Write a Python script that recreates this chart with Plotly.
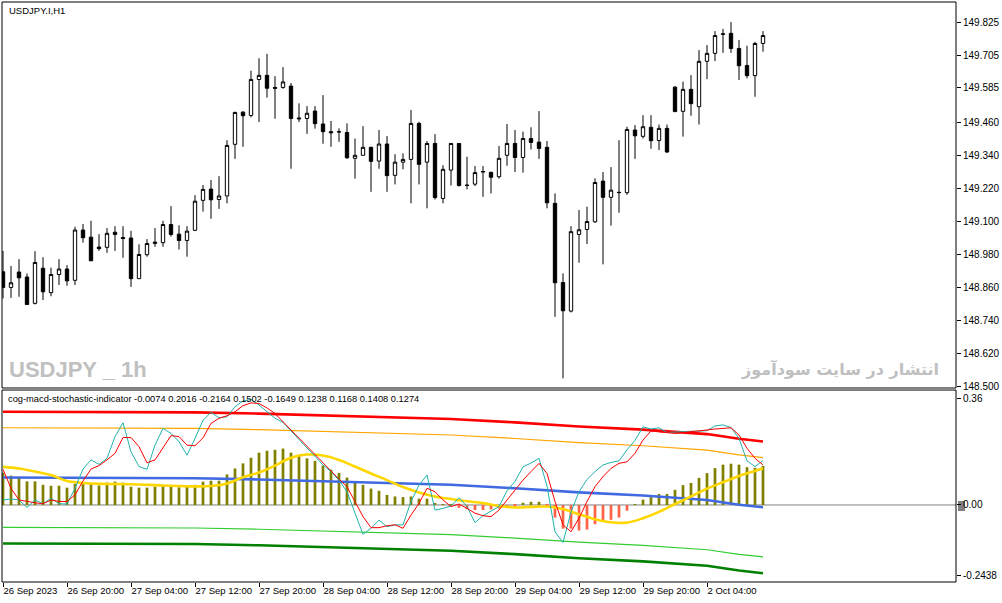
import plotly.graph_objects as go

# USDJPY.I H1 candles, 26 Sep 12:00 -> 2 Oct 11:00 (96 bars)
opens = [148.916, 148.859, 148.915, 148.897, 148.801, 148.929, 148.840, 148.906, 148.926, 148.885,
         149.068, 149.042, 149.006, 149.005, 149.060, 149.041, 149.039, 148.891, 148.978, 149.019,
         149.022, 149.088, 149.053, 149.030, 149.067, 149.176, 149.217, 149.179, 149.192, 149.380,
         149.497, 149.485, 149.616, 149.631, 149.587, 149.587, 149.592, 149.476, 149.474, 149.501,
         149.454, 149.426, 149.426, 149.423, 149.329, 149.340, 149.369, 149.319, 149.381, 149.267,
         149.315, 149.325, 149.456, 149.315, 149.383, 149.183, 149.286, 149.383, 149.232, 149.235,
         149.279, 149.278, 149.262, 149.340, 149.383, 149.332, 149.401, 149.388, 149.369, 149.165,
         148.877, 148.773, 149.052, 149.070, 149.098, 149.246, 149.187, 149.204, 149.204, 149.432,
         149.409, 149.442, 149.394, 149.438, 149.588, 149.500, 149.580, 149.517, 149.682, 149.711,
         149.780, 149.784, 149.729, 149.667, 149.630, 149.747]
highs = [148.992, 148.937, 148.962, 148.910, 148.991, 148.969, 148.931, 148.962, 148.940, 149.080,
         149.090, 149.102, 149.053, 149.075, 149.082, 149.082, 149.065, 149.016, 149.035, 149.075,
         149.102, 149.155, 149.085, 149.082, 149.195, 149.232, 149.250, 149.264, 149.395, 149.499,
         149.501, 149.648, 149.693, 149.709, 149.628, 149.661, 149.603, 149.529, 149.519, 149.519,
         149.559, 149.465, 149.438, 149.456, 149.401, 149.446, 149.371, 149.432, 149.410, 149.344,
         149.347, 149.505, 149.462, 149.392, 149.417, 149.304, 149.385, 149.385, 149.335, 149.301,
         149.301, 149.280, 149.374, 149.454, 149.432, 149.426, 149.442, 149.501, 149.392, 149.201,
         148.910, 149.082, 149.141, 149.153, 149.256, 149.279, 149.297, 149.395, 149.444, 149.450,
         149.486, 149.486, 149.452, 149.452, 149.592, 149.608, 149.632, 149.723, 149.741, 149.792,
         149.800, 149.825, 149.760, 149.739, 149.753, 149.792]
lows = [148.819, 148.821, 148.825, 148.797, 148.797, 148.813, 148.827, 148.868, 148.865, 148.868,
        149.022, 148.956, 148.992, 148.985, 148.992, 148.967, 148.861, 148.891, 148.971, 149.007,
        149.007, 149.044, 148.997, 148.971, 149.064, 149.135, 149.109, 149.145, 149.165, 149.327,
        149.371, 149.478, 149.461, 149.550, 149.473, 149.582, 149.291, 149.461, 149.418, 149.437,
        149.382, 149.371, 149.389, 149.327, 149.255, 149.340, 149.207, 149.291, 149.207, 149.234,
        149.289, 149.165, 149.234, 149.147, 149.179, 149.165, 149.230, 149.226, 149.216, 149.228,
        149.189, 149.201, 149.255, 149.302, 149.279, 149.277, 149.361, 149.327, 149.147, 148.752,
        148.528, 148.768, 148.949, 149.017, 149.094, 148.943, 149.084, 149.131, 149.196, 149.327,
        149.401, 149.364, 149.359, 149.349, 149.499, 149.408, 149.484, 149.452, 149.617, 149.683,
        149.713, 149.713, 149.614, 149.620, 149.553, 149.717]
closes = [148.859, 148.876, 148.894, 148.797, 148.950, 148.843, 148.906, 148.926, 148.883, 149.068,
          149.040, 148.956, 149.000, 149.056, 149.052, 149.037, 148.891, 148.979, 149.019, 149.024,
          149.088, 149.052, 149.030, 149.064, 149.173, 149.216, 149.178, 149.192, 149.376, 149.496,
          149.484, 149.616, 149.631, 149.584, 149.584, 149.607, 149.474, 149.473, 149.493, 149.455,
          149.426, 149.422, 149.425, 149.331, 149.340, 149.369, 149.318, 149.381, 149.266, 149.315,
          149.325, 149.456, 149.307, 149.383, 149.186, 149.289, 149.383, 149.230, 149.230, 149.277,
          149.281, 149.260, 149.329, 149.383, 149.332, 149.401, 149.387, 149.365, 149.167, 148.876,
          148.774, 149.062, 149.069, 149.099, 149.241, 149.187, 149.213, 149.205, 149.434, 149.411,
          149.444, 149.393, 149.438, 149.352, 149.499, 149.580, 149.528, 149.682, 149.711, 149.776,
          149.782, 149.729, 149.666, 149.630, 149.747, 149.776]
bars = list(range(len(opens)))

time_ticks = [0, 8, 16, 24, 32, 40, 48, 56, 64, 72, 80, 88]
time_labels = ["26 Sep 2023", "26 Sep 20:00", "27 Sep 04:00", "27 Sep 12:00", "27 Sep 20:00",
               "28 Sep 04:00", "28 Sep 12:00", "28 Sep 20:00", "29 Sep 04:00", "29 Sep 12:00",
               "29 Sep 20:00", "2 Oct 04:00"]
price_ticks = [149.825, 149.705, 149.585, 149.460, 149.340, 149.220, 149.100, 148.980,
               148.860, 148.740, 148.620, 148.500]

# cog-macd-stochastic-indicator
macd_hist = [0.1025, 0.093, 0.088, 0.075, 0.075, 0.064, 0.061, 0.061, 0.055, 0.067,
             0.069, 0.067, 0.062, 0.071, 0.074, 0.071, 0.058, 0.055, 0.055, 0.058,
             0.060, 0.060, 0.056, 0.058, 0.064, 0.074, 0.077, 0.077, 0.097, 0.116,
             0.132, 0.150, 0.166, 0.172, 0.175, 0.179, 0.166, 0.155, 0.148, 0.140,
             0.125, 0.112, 0.102, 0.087, 0.075, 0.064, 0.052, 0.045, 0.032, 0.027,
             0.025, 0.027, 0.020, 0.020, 0.004, 0.002, 0.003, -0.009, -0.013, -0.016,
             -0.016, -0.014, -0.011, -0.007, -0.005, 0.007, 0.010, 0.010, -0.002, -0.040,
             -0.075, -0.075, -0.081, -0.078, -0.061, -0.052, -0.047, -0.040, -0.018, 0.001,
             0.017, 0.025, 0.035, 0.035, 0.048, 0.063, 0.070, 0.086, 0.101, 0.117,
             0.128, 0.131, 0.128, 0.120, 0.118, 0.1238]
stoch_main = [0.016, 0.019, 0.016, -0.008, 0.016, 0.004, 0.021, 0.004, 0.003, 0.053,
              0.114, 0.143, 0.129, 0.148, 0.217, 0.261, 0.169, 0.122, 0.113, 0.190,
              0.243, 0.227, 0.201, 0.158, 0.211, 0.269, 0.294, 0.277, 0.280, 0.312,
              0.330, 0.335, 0.317, 0.296, 0.275, 0.262, 0.235, 0.206, 0.180, 0.153,
              0.127, 0.106, 0.079, 0.042, -0.026, -0.093, -0.074, -0.048, -0.069, -0.063,
              -0.063, 0.011, 0.063, 0.095, -0.016, -0.011, -0.003, 0.023, -0.005, -0.056,
              -0.034, -0.019, -0.005, 0.045, 0.075, 0.121, 0.133, 0.148, 0.060, -0.085,
              -0.119, -0.022, 0.042, 0.081, 0.106, 0.127, 0.135, 0.140, 0.175, 0.205,
              0.248, 0.241, 0.245, 0.230, 0.232, 0.234, 0.234, 0.234, 0.236, 0.251,
              0.254, 0.246, 0.211, 0.140, 0.122, 0.1408]
stoch_signal = [0.113, 0.053, 0.016, 0.011, 0.007, 0.004, 0.016, 0.011, 0.011, 0.032,
                0.076, 0.114, 0.125, 0.143, 0.164, 0.214, 0.214, 0.185, 0.134, 0.143,
                0.180, 0.220, 0.217, 0.190, 0.188, 0.213, 0.259, 0.275, 0.283, 0.296,
                0.315, 0.324, 0.322, 0.308, 0.290, 0.264, 0.238, 0.211, 0.185, 0.158,
                0.132, 0.106, 0.082, 0.058, 0.011, -0.037, -0.072, -0.072, -0.066, -0.063,
                -0.074, -0.032, 0.005, 0.053, 0.042, 0.016, -0.005, 0.003, -0.011, -0.026,
                -0.034, -0.037, -0.016, 0.016, 0.050, 0.079, 0.106, 0.132, 0.100, 0.011,
                -0.063, -0.085, -0.042, 0.011, 0.058, 0.090, 0.116, 0.132, 0.137, 0.164,
                0.206, 0.235, 0.232, 0.230, 0.227, 0.230, 0.232, 0.235, 0.238, 0.241,
                0.243, 0.245, 0.222, 0.180, 0.148, 0.1274]

signal_idx = [0, 2, 4, 6, 8, 10, 12, 16, 20, 24, 26, 28, 30, 32, 34, 36, 38, 40, 42, 44, 46, 48,
              50, 52, 54, 56, 58, 60, 62, 64, 66, 68, 70, 72, 74, 76, 78, 80, 82, 84, 86, 88,
              90, 92, 94, 95]
signal_val = [0.121, 0.116, 0.106, 0.095, 0.076, 0.070, 0.067, 0.066, 0.062, 0.059, 0.060, 0.068,
              0.088, 0.103, 0.125, 0.150, 0.160, 0.157, 0.143, 0.122, 0.100, 0.079, 0.057, 0.040,
              0.027, 0.019, 0.012, 0.006, -0.003, -0.008, -0.006, -0.005, -0.013, -0.030, -0.045,
              -0.055, -0.056, -0.042, -0.022, 0.003, 0.027, 0.052, 0.072, 0.092, 0.108, 0.1168]

# COG channel, read every 8 bars
cog_idx = [0, 8, 16, 24, 32, 40, 48, 56, 64, 72, 80, 84, 88, 92, 95]
cog_center = [0.087, 0.087, 0.087, 0.085, 0.081, 0.076, 0.069, 0.064, 0.053, 0.040, 0.030, 0.023, 0.016, 0.001, -0.0074]
cog_upper1 = [0.296, 0.296, 0.296, 0.294, 0.290, 0.285, 0.278, 0.273, 0.262, 0.249, 0.239, 0.232, 0.225, 0.210, 0.2016]
cog_upper2 = [0.245, 0.245, 0.245, 0.243, 0.239, 0.234, 0.227, 0.222, 0.211, 0.198, 0.188, 0.181, 0.174, 0.159, 0.1502]
cog_lower2 = [-0.071, -0.071, -0.071, -0.073, -0.077, -0.082, -0.089, -0.094, -0.105, -0.118, -0.128, -0.135, -0.142, -0.157, -0.1649]
cog_lower1 = [-0.122, -0.122, -0.122, -0.124, -0.128, -0.133, -0.140, -0.145, -0.156, -0.169, -0.179, -0.186, -0.193, -0.208, -0.2164]

FONT = "Liberation Sans, Arial, sans-serif"

fig = go.Figure()

fig.add_trace(go.Candlestick(
    x=bars, open=opens, high=highs, low=lows, close=closes,
    xaxis="x", yaxis="y",
    increasing=dict(fillcolor="white", line=dict(color="black", width=1)),
    decreasing=dict(fillcolor="black", line=dict(color="black", width=1)),
    whiskerwidth=0, showlegend=False, hoverinfo="skip"))

hist_colors = ["#808000" if v >= 0 else "#FF6347" for v in macd_hist]
fig.add_trace(go.Bar(x=bars, y=macd_hist, marker=dict(color=hist_colors, line=dict(width=0)),
                     width=0.34, xaxis="x", yaxis="y2", showlegend=False, hoverinfo="skip"))

bands = [(cog_upper1, "#FF0000", 2.6), (cog_upper2, "#FFA500", 1.2), (cog_center, "#4169E1", 2.6),
         (cog_lower2, "#32CD32", 1.2), (cog_lower1, "#008000", 2.6)]
for vals, col, w in bands:
    fig.add_trace(go.Scatter(x=cog_idx, y=vals, mode="lines", line=dict(color=col, width=w),
                             xaxis="x", yaxis="y2", showlegend=False, hoverinfo="skip"))

fig.add_trace(go.Scatter(x=signal_idx, y=signal_val, mode="lines", line=dict(color="#FFD700", width=2.6, shape="spline"),
                         xaxis="x", yaxis="y2", showlegend=False, hoverinfo="skip"))
fig.add_trace(go.Scatter(x=bars, y=stoch_main, mode="lines", line=dict(color="#20B2AA", width=1),
                         xaxis="x", yaxis="y2", showlegend=False, hoverinfo="skip"))
fig.add_trace(go.Scatter(x=bars, y=stoch_signal, mode="lines", line=dict(color="#FF0000", width=1),
                         xaxis="x", yaxis="y2", showlegend=False, hoverinfo="skip"))


def px(x):
    return (x - 2) / 954.0


def py(y):
    return (582 - y) / 580.0


shapes = [
    dict(type="line", xref="paper", x0=0, x1=1, yref="y2", y0=0, y1=0, line=dict(color="#808080", width=1), layer="below"),
    dict(type="rect", xref="paper", x0=px(958), x1=px(965), yref="paper", y0=py(511), y1=py(501),
         fillcolor="#808080", line=dict(width=0), layer="below"),
    dict(type="rect", xref="paper", x0=0, x1=1, yref="y domain", y0=0, y1=1, line=dict(color="black", width=1)),
    dict(type="rect", xref="paper", x0=0, x1=1, yref="y2 domain", y0=0, y1=1, line=dict(color="black", width=1)),
]

annotations = [
    dict(text="USDJPY.I,H1", xref="paper", yref="paper", x=px(7), y=py(10), xanchor="left", yanchor="middle",
         showarrow=False, font=dict(family=FONT, size=9.5, color="black")),
    dict(text="cog-macd-stochastic-indicator -0.0074 0.2016 -0.2164 0.1502 -0.1649 0.1238 0.1168 0.1408 0.1274",
         xref="paper", yref="paper", x=px(6), y=py(399), xanchor="left", yanchor="middle",
         showarrow=False, font=dict(family=FONT, size=9.3, color="black")),
    dict(text="<b>USDJPY _ 1h</b>", xref="paper", yref="paper", x=px(7), y=py(369), xanchor="left", yanchor="middle",
         showarrow=False, font=dict(family=FONT, size=22, color="#C0C0C0")),
    dict(text="<b>انتشار در سایت سودآموز</b>", xref="paper", yref="paper", x=px(941), y=py(369), xanchor="right",
         yanchor="middle", showarrow=False, font=dict(family="DejaVu Sans, sans-serif", size=16, color="#C0C0C0")),
]

fig.update_layout(
    width=1002, height=603,
    margin=dict(l=2, r=46, t=2, b=21, autoexpand=False),
    paper_bgcolor="white", plot_bgcolor="white",
    boxgap=0.4,
    xaxis=dict(range=[-0.125, 119.125], anchor="y2", tickvals=time_ticks, ticktext=time_labels,
               ticks="outside", ticklen=4, tickcolor="black", ticklabelposition="outside right",
               tickangle=0, tickfont=dict(family=FONT, size=9.5, color="black"),
               showgrid=False, zeroline=False, showline=False, rangeslider=dict(visible=False)),
    yaxis=dict(domain=[0.3345, 1], anchor="x", side="right", range=[148.493, 149.898],
               tickvals=price_ticks, ticktext=["%.3f" % v for v in price_ticks],
               ticks="outside", ticklen=4, tickcolor="black",
               tickfont=dict(family=FONT, size=10, color="black"),
               showgrid=False, zeroline=False, showline=False),
    yaxis2=dict(domain=[0, 0.331], anchor="x", side="right", range=[-0.2444, 0.3648],
                tickvals=[0.339, 0.0, -0.225], ticktext=["0.36", "0.00", "-0.2438"],
                ticks="outside", ticklen=4, tickcolor="black",
                tickfont=dict(family=FONT, size=10, color="black"),
                showgrid=False, zeroline=False, showline=False),
    shapes=shapes, annotations=annotations,
)

fig.write_html("out.html", config={"displayModeBar": False},
               post_script="document.body.style.margin='0';document.body.style.overflow='hidden';")
